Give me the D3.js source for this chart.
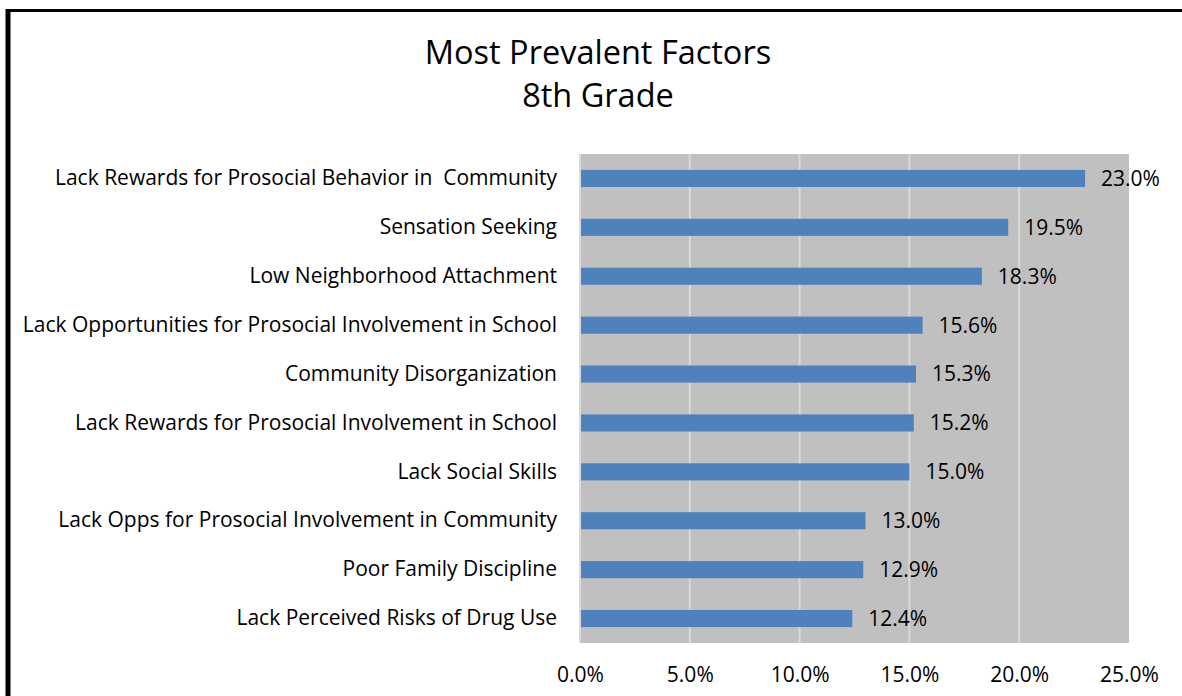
<!DOCTYPE html>
<html>
<head>
<meta charset="utf-8">
<script src="https://cdn.jsdelivr.net/npm/d3@7"></script>
<style>
  body { margin: 0; background: #fff; }
  text { font-family: "Open Sans", sans-serif; fill: #000; white-space: pre; }
</style>
</head>
<body>
<svg id="chart" width="1182" height="696"></svg>
<script>
var categories = [
  "Lack Rewards for Prosocial Behavior in  Community",
  "Sensation Seeking",
  "Low Neighborhood Attachment",
  "Lack Opportunities for Prosocial Involvement in School",
  "Community Disorganization",
  "Lack Rewards for Prosocial Involvement in School",
  "Lack Social Skills",
  "Lack Opps for Prosocial Involvement in Community",
  "Poor Family Discipline",
  "Lack Perceived Risks of Drug Use"
];
var values = [23.0, 19.5, 18.3, 15.6, 15.3, 15.2, 15.0, 13.0, 12.9, 12.4];
var tickValues = [0, 5, 10, 15, 20, 25];
var titleLines = ["Most Prevalent Factors", "8th Grade"];

var margin = {top: 154, right: 53, bottom: 53, left: 580},
    width = 1182 - margin.left - margin.right,
    height = 696 - margin.top - margin.bottom;

var svg = d3.select("#chart");

// frame (only left and top edges are visible in the crop)
svg.append("line").attr("x1", 8).attr("x2", 8).attr("y1", 9).attr("y2", 696)
  .style("stroke", "#000").style("stroke-width", 5);
svg.append("line").attr("x1", 6).attr("x2", 1182).attr("y1", 10.5).attr("y2", 10.5)
  .style("stroke", "#000").style("stroke-width", 3);

// title
svg.append("g").selectAll("text")
  .data(titleLines)
  .enter().append("text")
    .attr("x", 598)
    .attr("y", function(d, i) { return 64 + i * 43; })
    .attr("text-anchor", "middle")
    .style("font-size", "32.5px")
    .text(function(d) { return d; });

var g = svg.append("g")
  .attr("transform", "translate(" + margin.left + "," + margin.top + ")");

var xScale = d3.scaleLinear().domain([0, 25]).range([0, width]);
var yScale = d3.scaleBand().domain(categories).range([0, height]).paddingInner(0.65).paddingOuter(0.325);

// plot background
g.append("rect")
  .attr("width", width)
  .attr("height", height)
  .style("fill", "#c0c0c0");

// gridlines
g.selectAll(".grid")
  .data(tickValues.slice(1, -1))
  .enter().append("line")
    .attr("class", "grid")
    .attr("x1", function(d) { return xScale(d); })
    .attr("x2", function(d) { return xScale(d); })
    .attr("y1", 0)
    .attr("y2", height)
    .style("stroke", "#d9d9d9")
    .style("stroke-width", 2);

// left axis line
g.append("line")
  .attr("x1", 0).attr("x2", 0).attr("y1", 0).attr("y2", height)
  .style("stroke", "#d9d9d9").style("stroke-width", 2);

// bars
g.selectAll(".bar")
  .data(values)
  .enter().append("rect")
    .attr("class", "bar")
    .attr("x", 1)
    .attr("y", function(d, i) { return yScale(categories[i]); })
    .attr("width", function(d) { return xScale(d) - 1; })
    .attr("height", yScale.bandwidth())
    .style("fill", "#4f81bd");

// value labels
g.selectAll(".val")
  .data(values)
  .enter().append("text")
    .attr("class", "val")
    .attr("x", function(d) { return xScale(d) + 16; })
    .attr("y", function(d, i) { return yScale(categories[i]) + yScale.bandwidth() / 2; })
    .attr("dy", "0.35em")
    .style("font-size", "21px")
    .text(function(d) { return d.toFixed(1) + "%"; });

// category axis
var yAxis = g.append("g")
  .call(d3.axisLeft(yScale).tickSize(0).tickPadding(23));
yAxis.select(".domain").remove();
yAxis.selectAll("text")
  .style("font-size", "21px")
  .style("font-family", "'Open Sans', sans-serif");

// value axis
var xAxis = g.append("g")
  .attr("transform", "translate(0," + height + ")")
  .call(d3.axisBottom(xScale).tickValues(tickValues).tickSize(0).tickPadding(24)
    .tickFormat(function(d) { return d.toFixed(1) + "%"; }));
xAxis.select(".domain").remove();
xAxis.selectAll("text")
  .style("font-size", "21px")
  .style("font-family", "'Open Sans', sans-serif");
</script>
</body>
</html>
